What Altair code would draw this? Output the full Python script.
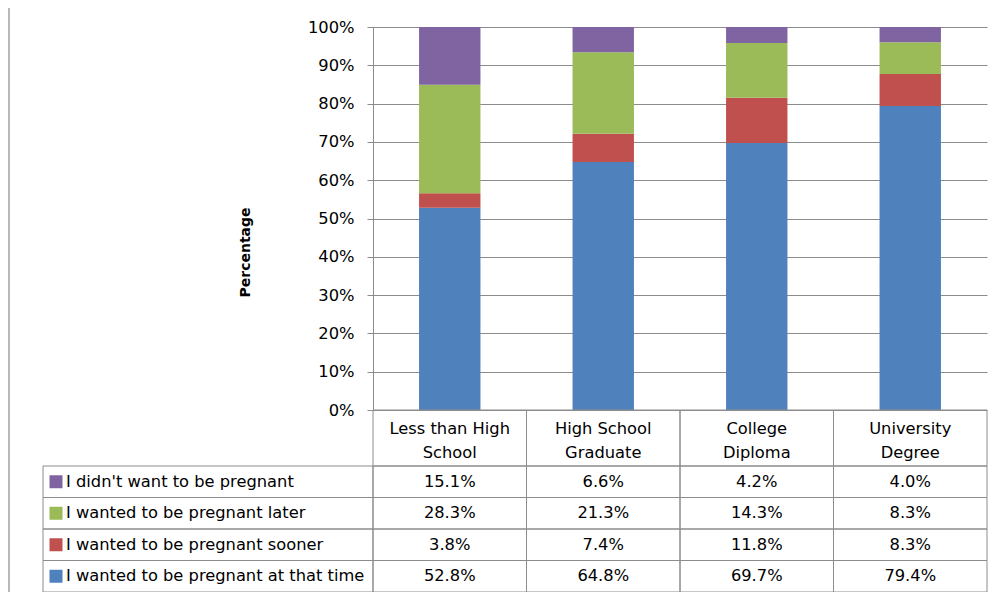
import altair as alt
import pandas as pd

categories = ["Less than High School", "High School Graduate", "College Diploma", "University Degree"]
series = [
    "I wanted to be pregnant at that time",
    "I wanted to be pregnant sooner",
    "I wanted to be pregnant later",
    "I didn't want to be pregnant",
]
colors = ["#4F81BD", "#C0504D", "#9BBB59", "#8064A2"]
at_that_time = [52.8, 64.8, 69.7, 79.4]
sooner = [3.8, 7.4, 11.8, 8.3]
later = [28.3, 21.3, 14.3, 8.3]
didnt_want = [15.1, 6.6, 4.2, 4.0]

values = [at_that_time, sooner, later, didnt_want]
rows = []
for si, (s, vals) in enumerate(zip(series, values)):
    for c, v in zip(categories, vals):
        rows.append({"category": c, "series": s, "idx": si, "value": v, "label": f"{v:.1f}%"})
df = pd.DataFrame(rows)
cat_df = pd.DataFrame({"category": categories})
ser_df = pd.DataFrame({"series": series})
one = pd.DataFrame({"a": [0]})

FONT = "DejaVu Sans"
FS = 16.3
LINE = "#8c8c8c"
W, H = 614, 383
table_order = list(reversed(series))

label_expr = (
    "datum.value == 'Less than High School' ? ['Less than High', 'School'] : "
    "datum.value == 'High School Graduate' ? ['High School', 'Graduate'] : "
    "split(datum.value, ' ')"
)
x_axis = alt.Axis(
    title=None, labelExpr=label_expr, labelAngle=0, ticks=False, domain=False,
    labelFont=FONT, labelFontSize=FS, labelColor="#000000", labelLineHeight=24,
    labelPadding=10, labelBaseline="top",
)
x_scale = alt.Scale(domain=categories, paddingInner=0, paddingOuter=0)
X = alt.X("category:N", scale=x_scale, axis=x_axis)

color = alt.Color("series:N", scale=alt.Scale(domain=series, range=colors), legend=None)

bars = alt.Chart(df).mark_bar(width={"band": 0.4}).encode(
    x=X,
    y=alt.Y(
        "value:Q", stack="normalize",
        scale=alt.Scale(domain=[0, 1]),
        axis=alt.Axis(
            title="Percentage", values=[i / 10 for i in range(11)], format=".0%",
            grid=True, gridColor=LINE, domainColor=LINE, tickColor=LINE, tickSize=6,
            labelFont=FONT, labelFontSize=FS, labelColor="#000000", labelPadding=13,
            titleFont=FONT, titleFontSize=14, titleFontWeight="bold", titleColor="#000000",
            titleAngle=270, titleAlign="center", titleBaseline="middle",
            titleX=-128, titleY=225,
        ),
    ),
    color=color,
    order=alt.Order("idx:Q", sort="ascending"),
)

row_y = alt.Y(
    "series:N",
    scale=alt.Scale(domain=table_order, range=[439, 565], paddingInner=0, paddingOuter=0),
    axis=None,
)
row_y_point = alt.Y(
    "series:N",
    scale=alt.Scale(domain=table_order, range=[439, 565], paddingInner=0, paddingOuter=0),
    axis=None,
    bandPosition=0.5,
)

header_cells = alt.Chart(cat_df).mark_rect(fill="white", fillOpacity=0, stroke=LINE, strokeWidth=1).encode(
    x=X, y=alt.value(383), y2=alt.value(439)
)
value_cells = alt.Chart(df).mark_rect(fill="white", fillOpacity=0, stroke=LINE, strokeWidth=1).encode(
    x=X, y=row_y
)
label_cells = alt.Chart(ser_df).mark_rect(fill="white", fillOpacity=0, stroke=LINE, strokeWidth=1).encode(
    x=alt.value(-330), x2=alt.value(0), y=row_y
)
swatches = alt.Chart(ser_df).mark_square(size=169, opacity=1, filled=True).encode(
    x=alt.value(-317), y=row_y_point, color=color
)
label_text = alt.Chart(ser_df).mark_text(
    align="left", baseline="middle", font=FONT, fontSize=FS, color="#000000"
).encode(x=alt.value(-307), y=row_y_point, text="series:N")
value_text = alt.Chart(df).mark_text(
    align="center", baseline="middle", font=FONT, fontSize=FS, color="#000000"
).encode(x=alt.X("category:N", scale=x_scale, axis=x_axis, bandPosition=0.5), y=row_y_point, text="label:N")

frame_left = alt.Chart(one).mark_rule(color="#a0a0a0", strokeWidth=1.5).encode(
    x=alt.value(-364), y=alt.value(-23), y2=alt.value(600)
)
frame_top = alt.Chart(one).mark_rule(color="#a0a0a0", strokeWidth=1.5).encode(
    x=alt.value(-364), x2=alt.value(660), y=alt.value(-23)
)

chart = (
    alt.layer(
        bars, header_cells, value_cells, label_cells, swatches, label_text, value_text,
        frame_left, frame_top,
    )
    .resolve_scale(y="independent")
    .properties(
        width=W, height=H,
        autosize=alt.AutoSizeParams(type="none"),
        padding={"left": 365, "top": 19, "right": 4, "bottom": 182},
    )
    .configure_view(strokeWidth=0)
)

chart.save("out.html", embed_options={"renderer": "svg", "actions": False})
